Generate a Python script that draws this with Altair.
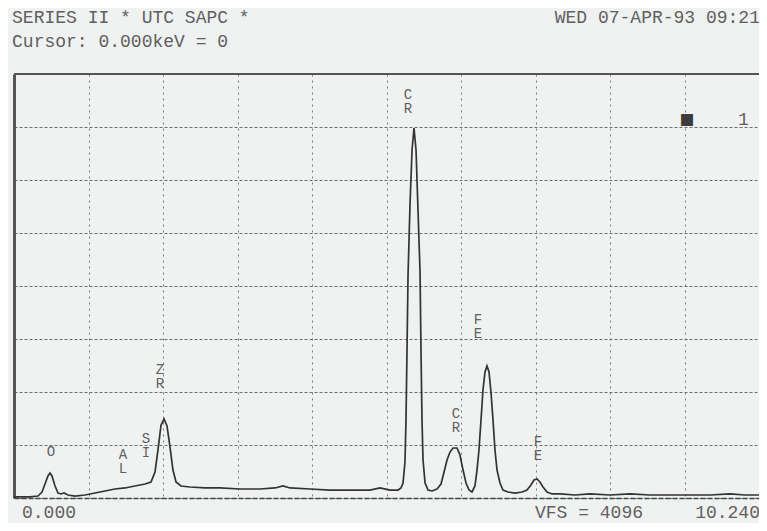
import altair as alt
import pandas as pd

# ---- spectrum (energy in keV, counts) ----
kev = [0.000, 0.220, 0.330, 0.385, 0.426, 0.467, 0.495, 0.522, 0.564, 0.605, 0.646, 0.687,
       0.742, 0.838, 0.976, 1.113, 1.251, 1.388, 1.526, 1.663, 1.801, 1.883, 1.938, 1.979,
       2.021, 2.062, 2.103, 2.144, 2.185, 2.227, 2.295, 2.419, 2.625, 2.831, 3.106, 3.381,
       3.587, 3.697, 3.794, 4.069, 4.343, 4.618, 4.893, 5.031, 5.168, 5.278, 5.319, 5.347,
       5.374, 5.388, 5.402, 5.416, 5.443, 5.471, 5.498, 5.526, 5.553, 5.581, 5.594, 5.608,
       5.622, 5.650, 5.691, 5.746, 5.814, 5.869, 5.911, 5.952, 5.993, 6.034, 6.089, 6.130,
       6.172, 6.213, 6.254, 6.295, 6.336, 6.364, 6.391, 6.419, 6.446, 6.474, 6.501, 6.529,
       6.556, 6.584, 6.611, 6.639, 6.680, 6.721, 6.790, 6.886, 6.983, 7.051, 7.106, 7.147,
       7.189, 7.229, 7.271, 7.326, 7.395, 7.505, 7.711, 7.917, 8.192, 8.467, 8.742, 9.017,
       9.292, 9.567, 9.841, 10.048, 10.240]
counts = [10, 10, 19, 58, 135, 213, 242, 213, 116, 48, 39, 48,
          29, 19, 29, 48, 68, 87, 97, 116, 135, 155, 251, 464,
          705, 763, 696, 493, 270, 155, 116, 106, 97, 97, 87, 87,
          97, 116, 97, 87, 77, 77, 77, 97, 77, 77, 97, 145,
          348, 753, 1430, 2154, 2830, 3362, 3574, 3362, 2782, 2183, 1430, 753,
          367, 145, 77, 68, 87, 135, 251, 367, 444, 483, 483, 415,
          270, 145, 77, 58, 116, 270, 464, 753, 1043, 1217, 1275, 1217,
          1024, 753, 464, 270, 145, 77, 58, 48, 58, 77, 126, 174,
          184, 155, 106, 58, 39, 39, 29, 39, 29, 39, 29, 29,
          29, 29, 39, 29, 29]

# ---- element labels (stacked letters) ----
peak_labels = ["O", "A\nL", "S\nI", "Z\nR", "C\nR", "C\nR", "F\nE", "F\nE"]
peak_label_kev = [0.509, 1.498, 1.814, 2.007, 5.416, 6.075, 6.378, 7.202]
peak_label_top = [512, 483, 638, 1304, 3961, 879, 1787, 609]

# ---- screen texts ----
left_texts = ["SERIES II * UTC SAPC *", "Cursor: 0.000keV = 0", "0.000", "VFS = 4096"]
left_kev = [-0.027, -0.027, 0.11, 7.161]
left_counts = [4589, 4357, -193, -193]
right_texts = ["WED 07-APR-93  09:21", "10.240", "1"]
right_kev = [10.253, 10.253, 10.10]
right_counts = [4589, -193, 3603]
marker_text = ["■"]
marker_kev = [9.25]
marker_counts = [3600]

# ---- grid ----
x_grid = [1.024 * i for i in range(11)]
y_grid = [512 * i for i in range(9)]
full_scale = 4096

spec = pd.DataFrame({"keV": kev, "counts": counts})
lab = pd.DataFrame({"t": peak_labels, "keV": peak_label_kev, "c": peak_label_top})
lt = pd.DataFrame({"t": left_texts, "keV": left_kev, "c": left_counts})
rt = pd.DataFrame({"t": right_texts, "keV": right_kev, "c": right_counts})
mk = pd.DataFrame({"t": marker_text, "keV": marker_kev, "c": marker_counts})
top = pd.DataFrame({"c": [full_scale]})

xs = alt.Scale(domain=[0, 10.24], nice=False, zero=False)
ys = alt.Scale(domain=[0, full_scale], nice=False, zero=False)
FONT = "Liberation Mono"
TXT = "#606060"

line = alt.Chart(spec).mark_line(color="#333333", strokeWidth=1.7, interpolate="linear").encode(
    x=alt.X("keV:Q", scale=xs,
            axis=alt.Axis(values=x_grid, labels=False, ticks=False, title=None,
                          grid=True, gridColor="#777", gridDash=[2, 4], gridWidth=1,
                          domainColor="#444", domainWidth=1.5, domainDash=[5, 2])),
    y=alt.Y("counts:Q", scale=ys,
            axis=alt.Axis(values=y_grid, labels=False, ticks=False, title=None,
                          grid=True, gridColor="#6e6e6e", gridDash=[3, 2], gridWidth=1,
                          domainColor="#555", domainWidth=3)),
)

top_rule = alt.Chart(top).mark_rule(color="#555", strokeWidth=2).encode(
    y=alt.Y("c:Q", scale=ys))

labels = alt.Chart(lab).mark_text(font=FONT, fontSize=14, color=TXT, baseline="top",
                                  align="center", lineBreak="\n", lineHeight=14).encode(
    x=alt.X("keV:Q", scale=xs), y=alt.Y("c:Q", scale=ys), text="t:N")

left = alt.Chart(lt).mark_text(font=FONT, fontSize=18, color=TXT, baseline="alphabetic",
                               align="left").encode(
    x=alt.X("keV:Q", scale=xs), y=alt.Y("c:Q", scale=ys), text="t:N")

right = alt.Chart(rt).mark_text(font=FONT, fontSize=18, color=TXT, baseline="alphabetic",
                                align="right").encode(
    x=alt.X("keV:Q", scale=xs), y=alt.Y("c:Q", scale=ys), text="t:N")

marker = alt.Chart(mk).mark_text(font="DejaVu Sans Mono", fontSize=20, color="#3c3c3c",
                                 baseline="alphabetic", align="center").encode(
    x=alt.X("keV:Q", scale=xs), y=alt.Y("c:Q", scale=ys), text="t:N")

chart = alt.layer(line, top_rule, labels, left, right, marker).properties(
    width=745, height=424,
    autosize=alt.AutoSizeParams(type="none"),
    padding={"left": 6, "top": 66, "right": 0, "bottom": 25},
    background="#f0f2f2",
).configure_view(stroke=None)

chart.save("out.html", embed_options={"renderer": "svg", "actions": False})
